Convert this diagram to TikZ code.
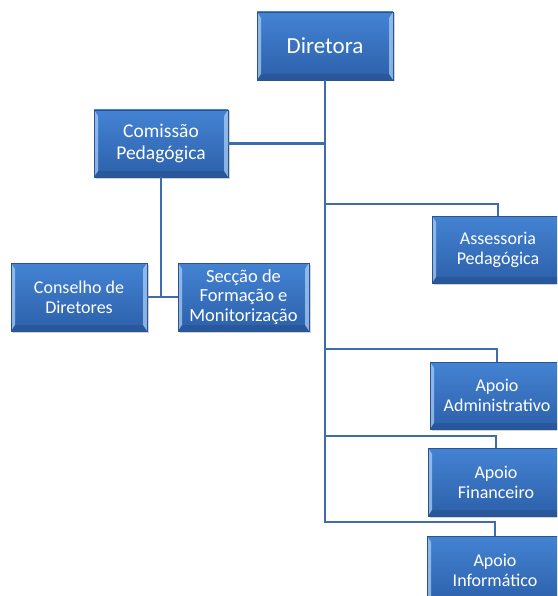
\documentclass[tikz,border=0pt]{standalone}
\usepackage{fontspec}
\setmainfont{Carlito}
\usetikzlibrary{positioning,shadows}
\definecolor{BoxTop}{HTML}{4483D3}
\definecolor{BoxBot}{HTML}{2C60AA}
\definecolor{BoxLine}{HTML}{2A5490}
\definecolor{Bevel}{HTML}{A8CDF5}
\definecolor{Link}{HTML}{3E6DAE}
\begin{document}
\begin{tikzpicture}[
  x=1pt, y=-1pt,
  orgbox/.style={
    align=center,
    font=\fontsize{18}{20}\selectfont\color{white},
    top color=BoxTop, bottom color=BoxBot,
    draw=BoxLine, line width=0.6pt,
    inner sep=2pt,
    minimum height=67pt,
    minimum width=133pt,
    drop shadow={opacity=0.35, shadow xshift=1.5pt, shadow yshift=-1.5pt},
    path picture={
      \fill[Bevel, opacity=0.75] (path picture bounding box.north west) -- ++(4pt,-6pt)
        -- ([shift={(4pt,6pt)}]path picture bounding box.south west)
        -- (path picture bounding box.south west) -- cycle;
      \fill[Bevel, opacity=0.75] (path picture bounding box.north east) -- ++(-4pt,-6pt)
        -- ([shift={(-4pt,6pt)}]path picture bounding box.south east)
        -- (path picture bounding box.south east) -- cycle;
      \fill[BoxBot!70!black, opacity=0.3] (path picture bounding box.south west) -- ++(4pt,6pt)
        -- ([shift={(-4pt,6pt)}]path picture bounding box.south east)
        -- (path picture bounding box.south east) -- cycle;
    }
  },
  link/.style={draw=Link, line width=2.4pt}
]
\clip (0,0) rectangle (557,596);

% top of the chart
\node[orgbox, minimum width=136pt, minimum height=68pt,
      font=\fontsize{23}{26}\selectfont\color{white}] (dir) at (325,46) {Diretora};
\node[orgbox, minimum width=134pt,
      font=\fontsize{19.5}{22}\selectfont\color{white}] (com) at (161,143.5) {Comissão\\Pedagógica};

% under the commission
\node[orgbox, minimum width=136pt, minimum height=68pt] (cons) at (79,297) {Conselho de\\Diretores};
\node[orgbox, minimum width=131pt, minimum height=68pt,
      font=\fontsize{18.5}{19.5}\selectfont\color{white}] (secc) at (243.5,297) {Secção de\\Formação e\\Monitorização};

% right column
\node[orgbox, minimum width=132pt] (asses) at (498,249.5) {Assessoria\\Pedagógica};
\node[orgbox, minimum width=134pt] (adm) at (497,395.5) {Apoio\\Administrativo};
\node[orgbox, minimum width=136pt, minimum height=68pt] (fin) at (496,482) {Apoio\\Financeiro};
\node[orgbox, minimum width=136pt, minimum height=68pt] (inf) at (495,570) {Apoio\\Informático};

\begin{scope}[on background layer/.try]
\draw[link] (dir.south) |- (com.east);
\draw[link] (dir.south) |- ([yshift=12pt]asses.north) -- (asses.north);
\draw[link] (dir.south) |- ([yshift=13pt]adm.north) -- (adm.north);
\draw[link] (dir.south) |- ([yshift=12pt]fin.north) -- (fin.north);
\draw[link] (dir.south) |- ([yshift=14pt]inf.north) -- (inf.north);
\draw[link] (com.south) |- (cons.east);
\draw[link] (com.south) |- (secc.west);
\end{scope}
\end{tikzpicture}
\end{document}
